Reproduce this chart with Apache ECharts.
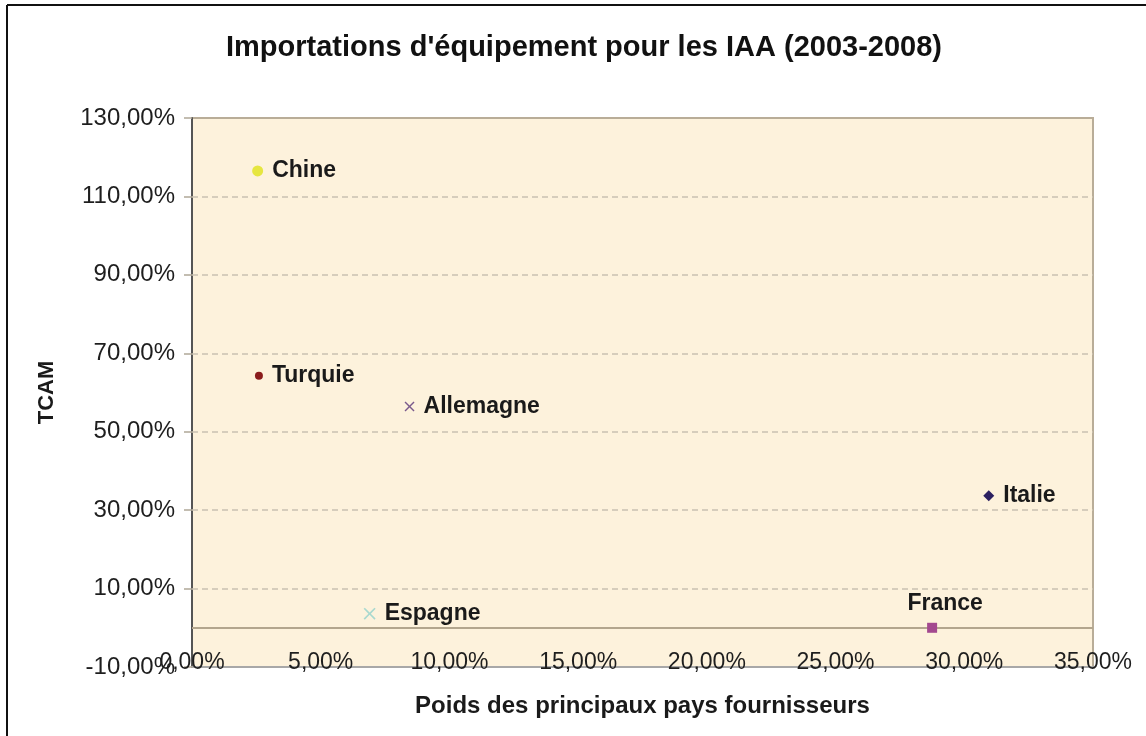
<!DOCTYPE html>
<html>
<head>
<meta charset="utf-8">
<script src="https://cdn.jsdelivr.net/npm/echarts@6/dist/echarts.min.js"></script>
<style>html,body{margin:0;padding:0;background:#fff}#c{width:1146px;height:736px}</style>
</head>
<body>
<div id="c"></div>
<script>
const titleText = "Importations d'équipement pour les IAA (2003-2008)";
const xAxisName = "Poids des principaux pays fournisseurs";
const yAxisName = "TCAM";
const countries = ["Chine", "Turquie", "Allemagne", "Italie", "Espagne", "France"];
const poids = [2.55, 2.6, 8.45, 30.95, 6.9, 28.75];   // x, %
const tcam = [116.5, 64.3, 56.4, 33.7, 3.6, 0.0];      // y, %
const yTicks = [-10, 10, 30, 50, 70, 90, 110, 130];    // labelled y values, %
const xTicks = [0, 5, 10, 15, 20, 25, 30, 35];         // labelled x values, %
const colors = ["#e6e640", "#8a1c1c", "#7a5a8c", "#2c2060", "#a9d9cf", "#a3498f"];
const xShape = "path://M0,1L1,0L5,4L9,0L10,1L6,5L10,9L9,10L5,6L1,10L0,9L4,5Z";
const symbols = ["circle", "circle", xShape, "diamond", xShape, "rect"];
const symbolSizes = [11, 8, 10, 11, 12, 10];
const labelPos = ["right", "right", "right", "right", "right", "top"];

const FONT = 'Liberation Sans, Arial, sans-serif';
function pct(v) { return v.toFixed(2).replace('.', ',') + '%'; }

const series = countries.map((c, i) => ({
  name: c,
  type: 'scatter',
  data: [[poids[i], tcam[i]]],
  symbol: symbols[i],
  symbolSize: symbolSizes[i],
  itemStyle: { color: colors[i], opacity: 1 },
  label: {
    show: true,
    formatter: c,
    position: labelPos[i],
    distance: labelPos[i] === 'top' ? 8 : 9,
    offset: labelPos[i] === 'top' ? [13, 0] : [0, 0],
    fontFamily: FONT,
    fontWeight: 'bold',
    fontSize: 23,
    color: '#1a1a1a'
  },
  z: 5
}));
// dashed grid lines at labelled values, solid line at zero
series[0].markLine = {
  silent: true,
  symbol: 'none',
  label: { show: false },
  animation: false,
  data: yTicks.filter(v => v > yTicks[0] && v < yTicks[yTicks.length - 1]).map(v => ({
    yAxis: v, lineStyle: { color: '#c9c1b1', type: [6, 4], width: 1.5 }
  })).concat([{ yAxis: 0, lineStyle: { color: '#b3a68e', width: 2, type: 'solid' } }])
};

const chart = echarts.init(document.getElementById('c'));
chart.setOption({
  backgroundColor: '#ffffff',
  animation: false,
  title: {
    text: titleText,
    left: 579,
    top: 28,
    textAlign: 'center',
    textStyle: { fontFamily: FONT, fontWeight: 'bold', fontSize: 29, color: '#111' }
  },
  graphic: [
    { type: 'line', shape: { x1: 7, y1: 5, x2: 1146, y2: 5 }, style: { stroke: '#111', lineWidth: 2 } },
    { type: 'line', shape: { x1: 7, y1: 5, x2: 7, y2: 736 }, style: { stroke: '#111', lineWidth: 2 } }
  ],
  grid: {
    left: 192, right: 53, top: 118, bottom: 69,
    show: true,
    backgroundColor: '#fdf2dc',
    borderColor: '#b9ad98',
    borderWidth: 2
  },
  xAxis: {
    type: 'value',
    min: xTicks[0], max: xTicks[xTicks.length - 1], interval: 5,
    name: xAxisName,
    nameLocation: 'middle',
    nameGap: 27,
    nameTextStyle: { fontFamily: FONT, fontWeight: 'bold', fontSize: 24, color: '#1a1a1a' },
    axisLine: { onZero: false, lineStyle: { color: '#a8a8a8', width: 2 } },
    axisTick: { show: false },
    splitLine: { show: false },
    axisLabel: {
      formatter: v => pct(v),
      margin: -16,
      fontFamily: FONT,
      fontSize: 23,
      color: '#1e1e1e'
    }
  },
  yAxis: {
    type: 'value',
    min: -10, max: 130, interval: 10,
    name: yAxisName,
    nameLocation: 'middle',
    nameGap: 134,
    nameRotate: 90,
    nameTextStyle: { fontFamily: FONT, fontWeight: 'bold', fontSize: 22, color: '#1a1a1a' },
    axisLine: { show: true, lineStyle: { color: '#555', width: 2 } },
    axisTick: { show: true, customValues: yTicks, length: 8, lineStyle: { color: '#b0a898', width: 1.5 } },
    axisLabel: {
      formatter: v => (yTicks.indexOf(Math.round(v)) >= 0 ? pct(v) : ''),
      margin: 17,
      fontFamily: FONT,
      fontSize: 24,
      color: '#1e1e1e'
    },
    splitLine: { show: false }
  },
  series: series
});
</script>
</body>
</html>
